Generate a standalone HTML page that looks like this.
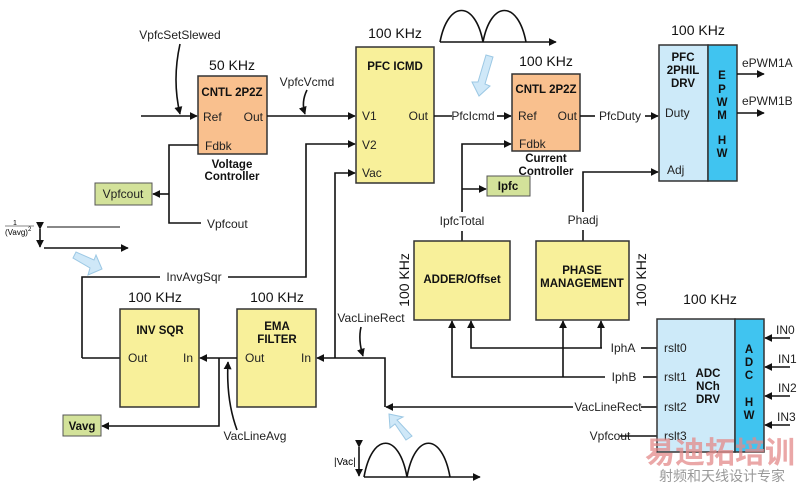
<!DOCTYPE html>
<html><head><meta charset="utf-8"><style>
body{margin:0;background:#fff}
svg{display:block;font-family:"Liberation Sans",Arial,sans-serif}
.t{font-size:12px;fill:#222}
.b{font-size:11.5px;font-weight:bold;fill:#111}
.k{font-size:14px;fill:#111}
.l{stroke:#111;stroke-width:1.6;fill:none}
</style></head><body>
<svg width="800" height="485" viewBox="0 0 800 485" xmlns="http://www.w3.org/2000/svg">
<defs>
<marker id="a" viewBox="0 0 10 10" refX="9" refY="5" markerWidth="5" markerHeight="5" orient="auto"><path d="M0,0L10,5L0,10z" fill="#111"/></marker>
</defs>
<!-- waves -->
<path class="l" d="M440,42 C448,0 475,0 483,42 C491,0 518,0 526,42" stroke-width="1.4"/>
<line class="l" x1="440" y1="42" x2="556" y2="42" marker-end="url(#a)"/>
<path class="l" d="M364,477 C372,432 399,432 407,477 C415,432 442,432 450,477" stroke-width="1.4"/>
<line class="l" x1="364" y1="477" x2="480" y2="477" marker-end="url(#a)"/>
<line class="l" x1="359" y1="447" x2="359" y2="476" marker-start="url(#a)" marker-end="url(#a)" stroke-width="1.2"/>
<text x="334" y="465" style="font-size:10px">|Vac|</text>
<!-- light blue arrows -->
<path d="M486,55 L493,57 L485,84 L490,86 L479,96 L472,82 L478,82 Z" fill="#cfe8f8" stroke="#9cc8e4"/>
<path d="M73,258 L76,252 L94,260 L96,255 L102,269 L88,275 L90,268 Z" fill="#cfe8f8" stroke="#9cc8e4"/>
<path d="M406,440 L412,436 L397,420 L403,417 L389,414 L390,428 L395,424 Z" fill="#cfe8f8" stroke="#9cc8e4"/>
<!-- 1/(Vavg)^2 -->
<text x="13" y="225" style="font-size:7px">1</text>
<line x1="5" y1="226" x2="34" y2="226" stroke="#111" stroke-width=".6"/>
<text x="5" y="235" style="font-size:8px">(Vavg)<tspan dy="-4" style="font-size:6px">2</tspan></text>
<line class="l" x1="40" y1="229" x2="40" y2="247" marker-start="url(#a)" marker-end="url(#a)" stroke-width="1.2"/>
<line x1="47" y1="227" x2="120" y2="227" stroke="#111" stroke-width="1"/>
<line class="l" x1="44" y1="248" x2="128" y2="248" marker-end="url(#a)" stroke-width="1.2"/>

<!-- Voltage controller -->
<text class="k" x="232" y="70" text-anchor="middle">50 KHz</text>
<rect x="198" y="76" width="69" height="78" fill="#f9c08e" stroke="#333" stroke-width="1.5"/>
<text class="b" x="232" y="96" text-anchor="middle">CNTL 2P2Z</text>
<text class="t" x="203" y="121">Ref</text><text class="t" x="263" y="121" text-anchor="end">Out</text>
<text class="t" x="205" y="150">Fdbk</text>
<text class="b" x="232" y="168" text-anchor="middle">Voltage</text>
<text class="b" x="232" y="180" text-anchor="middle">Controller</text>
<text class="t" x="180" y="39" text-anchor="middle">VpfcSetSlewed</text>
<path class="l" d="M180,44 Q172,80 180,114" marker-end="url(#a)" stroke-width="1.2"/>
<line class="l" x1="141" y1="116" x2="197" y2="116" marker-end="url(#a)"/>
<line class="l" x1="267" y1="116" x2="355" y2="116" marker-end="url(#a)"/>
<text class="t" x="307" y="86" text-anchor="middle">VpfcVcmd</text>
<path class="l" d="M307,90 Q301,102 305,114" marker-end="url(#a)" stroke-width="1.2"/>
<path class="l" d="M198,145 H169 V223 H201"/>
<text class="t" x="207" y="228">Vpfcout</text>
<line class="l" x1="169" y1="194" x2="153" y2="194" marker-end="url(#a)"/>
<rect x="95" y="183" width="57" height="22" fill="#d3e29a" stroke="#555"/>
<text class="t" x="123" y="198" text-anchor="middle">Vpfcout</text>

<!-- PFC ICMD -->
<text class="k" x="395" y="38" text-anchor="middle">100 KHz</text>
<rect x="356" y="47" width="78" height="136" fill="#f8f09a" stroke="#333" stroke-width="1.5"/>
<text class="b" x="395" y="70" text-anchor="middle">PFC ICMD</text>
<text class="t" x="362" y="120">V1</text><text class="t" x="428" y="120" text-anchor="end">Out</text>
<text class="t" x="362" y="149">V2</text><text class="t" x="362" y="177">Vac</text>
<path class="l" d="M82,358 H120 M82,358 V277 H160 M228,277 H306 V144 H355" marker-end="url(#a)"/>
<text class="t" x="194" y="281" text-anchor="middle">InvAvgSqr</text>
<path class="l" d="M335,358 V173 H355" marker-end="url(#a)"/>
<line class="l" x1="434" y1="116" x2="452" y2="116"/>
<text class="t" x="473" y="120" text-anchor="middle">PfcIcmd</text>
<line class="l" x1="497" y1="116" x2="511" y2="116" marker-end="url(#a)"/>

<!-- Current controller -->
<text class="k" x="546" y="66" text-anchor="middle">100 KHz</text>
<rect x="512" y="74" width="68" height="77" fill="#f9c08e" stroke="#333" stroke-width="1.5"/>
<text class="b" x="546" y="93" text-anchor="middle">CNTL 2P2Z</text>
<text class="t" x="518" y="120">Ref</text><text class="t" x="577" y="120" text-anchor="end">Out</text>
<text class="t" x="519" y="148">Fdbk</text>
<text class="b" x="546" y="162" text-anchor="middle">Current</text>
<text class="b" x="546" y="175" text-anchor="middle">Controller</text>
<line class="l" x1="580" y1="116" x2="595" y2="116"/>
<text class="t" x="620" y="120" text-anchor="middle">PfcDuty</text>
<line class="l" x1="645" y1="116" x2="658" y2="116" marker-end="url(#a)"/>
<path class="l" d="M462,212 V144 H511" marker-end="url(#a)"/>
<line class="l" x1="462" y1="189" x2="486" y2="189" marker-end="url(#a)"/>
<rect x="487" y="176" width="43" height="20" fill="#d3e29a" stroke="#555"/>
<text class="b" x="508" y="190" text-anchor="middle">Ipfc</text>
<text class="t" x="462" y="225" text-anchor="middle">IpfcTotal</text>
<line class="l" x1="462" y1="231" x2="462" y2="241"/>
<path class="l" d="M583,212 V172 H658" marker-end="url(#a)"/>
<text class="t" x="583" y="224" text-anchor="middle">Phadj</text>
<line class="l" x1="583" y1="230" x2="583" y2="241"/>

<!-- PFC DRV -->
<text class="k" x="698" y="35" text-anchor="middle">100 KHz</text>
<rect x="659" y="45" width="49" height="136" fill="#cdeaf9" stroke="#333" stroke-width="1.5"/>
<rect x="708" y="45" width="29" height="136" fill="#40c4f0" stroke="#333" stroke-width="1.5"/>
<text class="b" x="683" y="61" text-anchor="middle">PFC</text>
<text class="b" x="683" y="74" text-anchor="middle">2PHIL</text>
<text class="b" x="683" y="87" text-anchor="middle">DRV</text>
<text class="t" x="665" y="117">Duty</text><text class="t" x="667" y="174">Adj</text>
<g class="b" text-anchor="middle"><text x="722" y="79">E</text><text x="722" y="93">P</text><text x="722" y="106">W</text><text x="722" y="119">M</text><text x="722" y="144">H</text><text x="722" y="157">W</text></g>
<text class="t" x="742" y="67">ePWM1A</text><text class="t" x="742" y="105">ePWM1B</text>
<line class="l" x1="737" y1="74" x2="764" y2="74" marker-end="url(#a)"/>
<line class="l" x1="737" y1="113" x2="764" y2="113" marker-end="url(#a)"/>

<!-- ADDER / PHASE -->
<rect x="414" y="241" width="96" height="79" fill="#f8f09a" stroke="#333" stroke-width="1.5"/>
<text class="b" x="462" y="283" text-anchor="middle">ADDER/Offset</text>
<text class="k" transform="translate(409,280) rotate(-90)" text-anchor="middle">100 KHz</text>
<rect x="536" y="241" width="93" height="79" fill="#f8f09a" stroke="#333" stroke-width="1.5"/>
<text class="b" x="582" y="274" text-anchor="middle">PHASE</text>
<text class="b" x="582" y="287" text-anchor="middle">MANAGEMENT</text>
<text class="k" transform="translate(646,280) rotate(-90)" text-anchor="middle">100 KHz</text>
<path class="l" d="M602,348 H471 V321" marker-end="url(#a)"/>
<path class="l" d="M601,348 V321" marker-end="url(#a)"/>
<path class="l" d="M605,377 H452 V321" marker-end="url(#a)"/>
<path class="l" d="M563,377 V321" marker-end="url(#a)"/>
<text class="t" x="623" y="352" text-anchor="middle">IphA</text>
<text class="t" x="624" y="381" text-anchor="middle">IphB</text>
<line class="l" x1="641" y1="348" x2="657" y2="348"/>
<line class="l" x1="643" y1="377" x2="657" y2="377"/>
<text class="t" x="608" y="411" text-anchor="middle">VacLineRect</text>
<line class="l" x1="641" y1="407" x2="657" y2="407"/>
<line class="l" x1="573" y1="407" x2="386" y2="407" marker-end="url(#a)"/>
<text class="t" x="610" y="440" text-anchor="middle">Vpfcout</text>
<line class="l" x1="620" y1="436" x2="657" y2="436"/>

<!-- ADC -->
<text class="k" x="710" y="304" text-anchor="middle">100 KHz</text>
<rect x="657" y="319" width="78" height="133" fill="#cdeaf9" stroke="#333" stroke-width="1.5"/>
<rect x="735" y="319" width="29" height="133" fill="#40c4f0" stroke="#333" stroke-width="1.5"/>
<text class="t" x="664" y="352">rslt0</text><text class="t" x="664" y="381">rslt1</text>
<text class="t" x="664" y="411">rslt2</text><text class="t" x="664" y="440">rslt3</text>
<text class="b" x="708" y="377" text-anchor="middle">ADC</text>
<text class="b" x="708" y="390" text-anchor="middle">NCh</text>
<text class="b" x="708" y="403" text-anchor="middle">DRV</text>
<g class="b" text-anchor="middle"><text x="749" y="353">A</text><text x="749" y="366">D</text><text x="749" y="379">C</text><text x="749" y="406">H</text><text x="749" y="419">W</text></g>
<g class="t"><text x="776" y="334">IN0</text><text x="778" y="363">IN1</text><text x="778" y="392">IN2</text><text x="777" y="421">IN3</text></g>
<line class="l" x1="790" y1="338" x2="765" y2="338" marker-end="url(#a)"/>
<line class="l" x1="790" y1="367" x2="765" y2="367" marker-end="url(#a)"/>
<line class="l" x1="790" y1="396" x2="765" y2="396" marker-end="url(#a)"/>
<line class="l" x1="790" y1="425" x2="765" y2="425" marker-end="url(#a)"/>

<!-- INV SQR / EMA -->
<text class="k" x="155" y="302" text-anchor="middle">100 KHz</text>
<rect x="120" y="309" width="79" height="98" fill="#f8f09a" stroke="#333" stroke-width="1.5"/>
<text class="b" x="160" y="334" text-anchor="middle">INV SQR</text>
<text class="t" x="128" y="362">Out</text><text class="t" x="193" y="362" text-anchor="end">In</text>
<text class="k" x="277" y="302" text-anchor="middle">100 KHz</text>
<rect x="237" y="309" width="79" height="98" fill="#f8f09a" stroke="#333" stroke-width="1.5"/>
<text class="b" x="277" y="330" text-anchor="middle">EMA</text>
<text class="b" x="277" y="343" text-anchor="middle">FILTER</text>
<text class="t" x="245" y="362">Out</text><text class="t" x="311" y="362" text-anchor="end">In</text>
<line class="l" x1="237" y1="358" x2="200" y2="358" marker-end="url(#a)"/>
<path class="l" d="M219,358 V426 H102" marker-end="url(#a)"/>
<rect x="63" y="415" width="38" height="21" fill="#d3e29a" stroke="#555"/>
<text class="b" x="82" y="430" text-anchor="middle">Vavg</text>
<text class="t" x="255" y="440" text-anchor="middle">VacLineAvg</text>
<path class="l" d="M237,430 Q226,400 228,362" marker-end="url(#a)" stroke-width="1.2"/>
<path class="l" d="M385,407 V358 H317" marker-end="url(#a)"/>
<text class="t" x="371" y="322" text-anchor="middle">VacLineRect</text>
<path class="l" d="M361,327 Q358,340 363,356" marker-end="url(#a)" stroke-width="1.2"/>

<!-- watermark -->
<text x="720" y="463" text-anchor="middle" style="font-family:'Noto Sans CJK SC',sans-serif;font-size:30px;font-weight:bold;fill:#e48a8a;opacity:.75">易迪拓培训</text>
<text x="722" y="481" text-anchor="middle" style="font-family:'Noto Sans CJK SC',sans-serif;font-size:14px;fill:#999">射频和天线设计专家</text>
</svg>
</body></html>
